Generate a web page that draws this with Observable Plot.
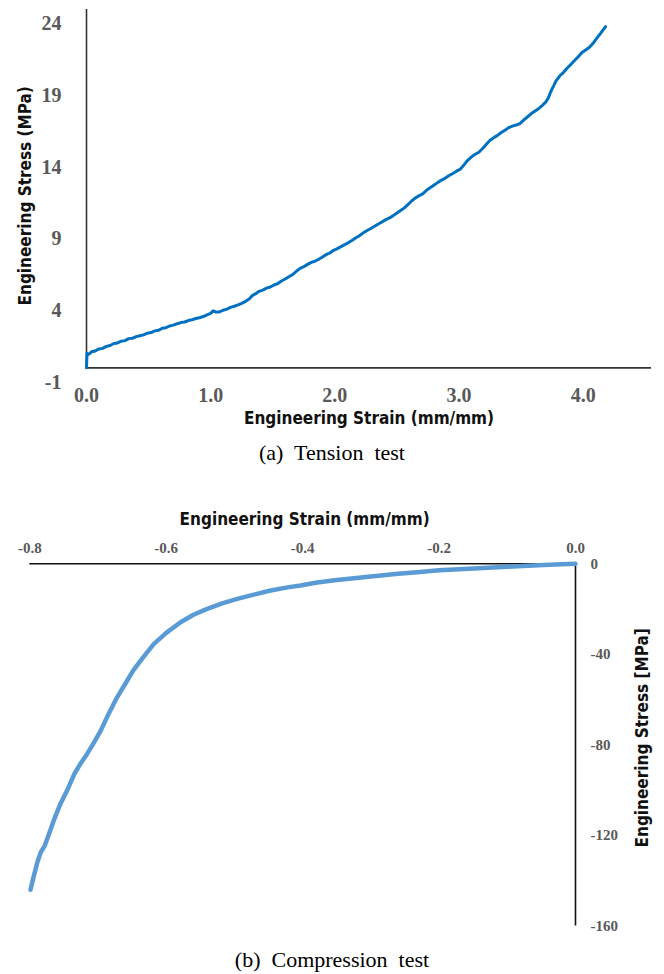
<!DOCTYPE html>
<html><head><meta charset="utf-8">
<script src="https://cdn.jsdelivr.net/npm/d3@7"></script>
<script src="https://cdn.jsdelivr.net/npm/@observablehq/plot@0.6"></script>
<style>
body{margin:0;background:#fff;}
#wrap{position:relative;width:664px;height:974px;overflow:hidden;background:#fff;}
#wrap svg{position:absolute;left:0;}
.cap{position:absolute;left:0;width:664px;text-align:center;font-family:"Liberation Serif","Times New Roman",serif;font-size:22px;color:#000;white-space:pre;line-height:24px;}
</style></head><body><div id="wrap"></div>
<script>
// ---- (a) Tension test ----
const tensionStrain = [0,0.004,0.02,0.04,0.07,0.10,0.13,0.16,0.19,0.22,0.25,0.28,0.31,0.34,0.37,0.40,0.43,0.46,0.49,0.52,0.55,0.58,0.61,0.64,0.67,0.70,0.73,0.76,0.79,0.82,0.85,0.88,0.91,0.94,0.97,1.00,1.02,1.04,1.07,1.10,1.13,1.16,1.19,1.22,1.25,1.28,1.31,1.34,1.36,1.39,1.42,1.45,1.48,1.51,1.54,1.57,1.60,1.63,1.66,1.69,1.72,1.75,1.78,1.81,1.84,1.87,1.90,1.93,1.96,1.99,2.02,2.05,2.08,2.11,2.14,2.17,2.20,2.23,2.26,2.29,2.32,2.35,2.38,2.41,2.44,2.47,2.50,2.53,2.56,2.59,2.62,2.65,2.68,2.71,2.74,2.77,2.80,2.83,2.86,2.89,2.92,2.95,2.98,3.01,3.04,3.07,3.10,3.13,3.16,3.19,3.22,3.25,3.28,3.31,3.34,3.37,3.40,3.43,3.46,3.49,3.52,3.55,3.58,3.61,3.64,3.67,3.70,3.72,3.74,3.76,3.78,3.81,3.84,3.87,3.90,3.93,3.96,3.99,4.02,4.05,4.08,4.11,4.14,4.16,4.18];
const tensionStress = [0,1.0,0.95,1.12,1.18,1.32,1.36,1.5,1.56,1.7,1.74,1.86,1.9,2.04,2.06,2.18,2.24,2.3,2.42,2.46,2.58,2.62,2.76,2.8,2.92,2.98,3.08,3.16,3.2,3.3,3.36,3.44,3.5,3.58,3.7,3.8,3.98,3.9,3.9,4.02,4.1,4.22,4.3,4.4,4.5,4.64,4.8,5.08,5.16,5.34,5.42,5.56,5.64,5.78,5.88,6.06,6.2,6.36,6.5,6.74,6.94,7.06,7.22,7.36,7.44,7.58,7.74,7.9,8.02,8.2,8.32,8.46,8.6,8.74,8.9,9.08,9.24,9.42,9.58,9.72,9.88,10.04,10.18,10.34,10.46,10.62,10.8,10.98,11.16,11.4,11.66,11.86,12.02,12.16,12.4,12.58,12.76,12.94,13.1,13.24,13.42,13.56,13.72,13.86,14.16,14.48,14.72,14.9,15.04,15.3,15.6,15.88,16.06,16.22,16.42,16.58,16.76,16.86,16.94,17.04,17.28,17.5,17.72,17.9,18.08,18.3,18.56,18.84,19.3,19.64,20.0,20.36,20.6,20.9,21.16,21.44,21.7,22.0,22.18,22.36,22.64,23.0,23.34,23.58,23.8];
const tensionXTicks = [0, 1, 2, 3, 4];
const tensionYTicks = [-1, 4, 9, 14, 19, 24];

// ---- (b) Compression test ----
const compStrain = [-0.799,-0.795,-0.789,-0.784,-0.778,-0.772,-0.765,-0.755,-0.745,-0.735,-0.725,-0.716,-0.706,-0.696,-0.684,-0.672,-0.660,-0.648,-0.633,-0.618,-0.600,-0.579,-0.560,-0.540,-0.518,-0.496,-0.470,-0.447,-0.420,-0.403,-0.379,-0.350,-0.300,-0.260,-0.232,-0.200,-0.170,-0.135,-0.100,-0.062,-0.030,0];
const compStress = [-144,-139,-132,-127.5,-124.5,-119.5,-113.5,-106,-100,-93,-88,-84,-79,-73.7,-66,-59,-53,-47,-41,-35.4,-30.5,-25.8,-22.5,-19.9,-17.5,-15.5,-13.5,-11.8,-10.3,-9.6,-8.3,-7.2,-5.6,-4.4,-3.7,-2.9,-2.4,-1.9,-1.3,-0.75,-0.3,0];
const compXTicks = [-0.8, -0.6, -0.4, -0.2, 0];
const compYTicks = [0, -40, -80, -120, -160];

const tension = tensionStrain.map((s, i) => ({strain: s, stress: tensionStress[i]}));
const comp = compStrain.map((s, i) => ({strain: s, stress: compStress[i]}));

const titleFont = '"DejaVu Sans Condensed","Liberation Sans Narrow",sans-serif';
const tickFont = '"Liberation Serif","Times New Roman",serif';
const titleStyle = {fontFamily: titleFont, fontSize: 17, fontWeight: "bold", fill: "#111", lineAnchor: "middle", textAnchor: "middle"};

const wrap = document.getElementById("wrap");

const p1 = Plot.plot({
  width: 664, height: 440,
  marginTop: 9, marginBottom: 58.3, marginLeft: 86, marginRight: 13,
  x: {domain: [0, 4.55]},
  y: {domain: [-1, 25]},
  style: {background: "white"},
  marks: [
    Plot.axisX({anchor: "bottom", ticks: tensionXTicks, tickFormat: d => d.toFixed(1), tickSize: 0, tickPadding: 6, label: null,
      fontSize: 20, fontWeight: "bold", fontFamily: tickFont, color: "#595959"}),
    Plot.axisY({anchor: "left", ticks: tensionYTicks, tickFormat: d => String(d), tickSize: 0, tickPadding: 25, label: null,
      fontSize: 20, fontWeight: "bold", fontFamily: tickFont, color: "#595959"}),
    Plot.ruleY([0], {stroke: "#333", strokeWidth: 1.6}),
    Plot.ruleX([0], {y1: 0, y2: 25, stroke: "#333", strokeWidth: 1.6}),
    Plot.line(tension, {x: "strain", y: "stress", stroke: "#0070C0", strokeWidth: 3}),
    Plot.text(["Engineering Strain (mm/mm)"], {frameAnchor: "bottom", dy: 36.3, dx: 0, ...titleStyle}),
    Plot.text(["Engineering Stress (MPa)"], {frameAnchor: "left", dx: -61, rotate: -90, ...titleStyle})
  ]
});
p1.style.top = "0px";
wrap.appendChild(p1);

const c1 = document.createElement("div");
c1.className = "cap"; c1.style.top = "441px";
c1.textContent = "(a)  Tension  test";
wrap.appendChild(c1);

const p2 = Plot.plot({
  width: 664, height: 470,
  marginTop: 83.3, marginBottom: 24.6, marginLeft: 29.3, marginRight: 89,
  x: {domain: [-0.8, 0]},
  y: {domain: [-160, 0]},
  style: {background: "white"},
  marks: [
    Plot.axisX({anchor: "top", ticks: compXTicks, tickFormat: d => d.toFixed(1), tickSize: 0, tickPadding: 11, label: null,
      fontSize: 15, fontWeight: "bold", fontFamily: tickFont, color: "#595959"}),
    Plot.axisY({anchor: "right", ticks: compYTicks, tickFormat: d => String(d), tickSize: 0, tickPadding: 15, label: null,
      fontSize: 15, fontWeight: "bold", fontFamily: tickFont, color: "#595959"}),
    Plot.ruleY([0], {stroke: "#111", strokeWidth: 1.6}),
    Plot.ruleX([0], {stroke: "#111", strokeWidth: 1.6}),
    Plot.line(comp, {x: "strain", y: "stress", stroke: "#5B9BD5", strokeWidth: 4.5}),
    Plot.text(["Engineering Strain (mm/mm)"], {frameAnchor: "top", dy: -44, dx: 2, ...titleStyle}),
    Plot.text(["Engineering Stress [MPa]"], {frameAnchor: "right", dx: 67, dy: -7, rotate: -90, ...titleStyle})
  ]
});
p2.style.top = "480px";
wrap.appendChild(p2);

const c2 = document.createElement("div");
c2.className = "cap"; c2.style.top = "948px";
c2.textContent = "(b)  Compression  test";
wrap.appendChild(c2);
</script>
</body></html>
